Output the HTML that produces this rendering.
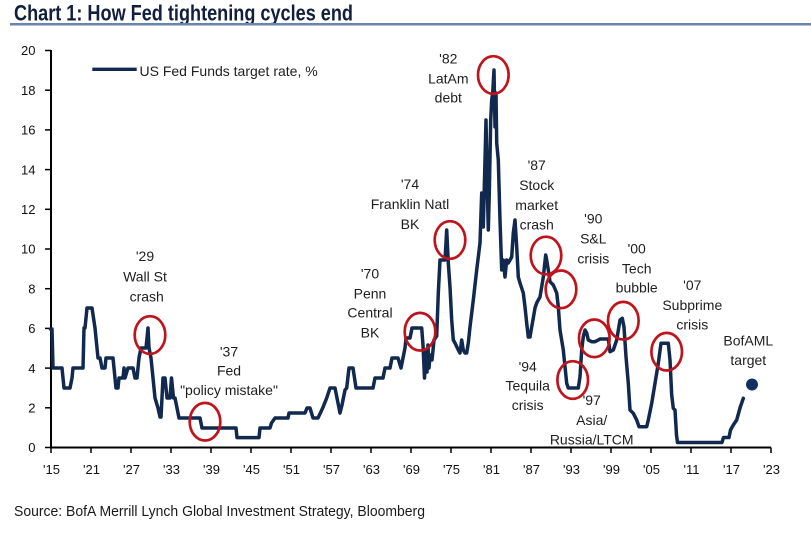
<!DOCTYPE html>
<html>
<head>
<meta charset="utf-8">
<style>
  html, body { margin: 0; padding: 0; background: #ffffff; }
  svg { display: block; }
  .ann { font-family: "Liberation Sans", Arial, sans-serif; font-size: 14px; fill: #1e1e1e; text-anchor: middle; }
  .tick { font-family: "Liberation Sans", Arial, sans-serif; font-size: 13px; fill: #111; }
</style>
</head>
<body>
<svg width="811" height="544" viewBox="0 0 811 544" xmlns="http://www.w3.org/2000/svg">
  <rect x="0" y="0" width="811" height="544" fill="#ffffff"/>

  <!-- Title -->
  <text x="14" y="20.7" font-family="'Liberation Sans Narrow','Liberation Sans',Arial,sans-serif" font-weight="bold" font-size="22" fill="#111e3c" textLength="339" lengthAdjust="spacingAndGlyphs">Chart 1: How Fed tightening cycles end</text>
  <rect x="10" y="23" width="801" height="2.5" fill="#6a83ad"/>

  <!-- Axes -->
  <line x1="51" y1="50" x2="51" y2="448.5" stroke="#000" stroke-width="2"/>
  <line x1="50" y1="447.5" x2="771" y2="447.5" stroke="#000" stroke-width="2"/>

  <!-- Y ticks -->
  <g stroke="#000" stroke-width="1.5">
    <line x1="45" y1="447.5" x2="51" y2="447.5"/>
    <line x1="45" y1="407.8" x2="51" y2="407.8"/>
    <line x1="45" y1="368.1" x2="51" y2="368.1"/>
    <line x1="45" y1="328.4" x2="51" y2="328.4"/>
    <line x1="45" y1="288.7" x2="51" y2="288.7"/>
    <line x1="45" y1="249.0" x2="51" y2="249.0"/>
    <line x1="45" y1="209.3" x2="51" y2="209.3"/>
    <line x1="45" y1="169.6" x2="51" y2="169.6"/>
    <line x1="45" y1="129.9" x2="51" y2="129.9"/>
    <line x1="45" y1="90.2" x2="51" y2="90.2"/>
    <line x1="45" y1="50.5" x2="51" y2="50.5"/>
  </g>
  <g class="tick" text-anchor="end">
    <text x="35.5" y="452.2">0</text>
    <text x="35.5" y="412.5">2</text>
    <text x="35.5" y="372.8">4</text>
    <text x="35.5" y="333.1">6</text>
    <text x="35.5" y="293.4">8</text>
    <text x="35.5" y="253.7">10</text>
    <text x="35.5" y="214.0">12</text>
    <text x="35.5" y="174.3">14</text>
    <text x="35.5" y="134.6">16</text>
    <text x="35.5" y="94.9">18</text>
    <text x="35.5" y="55.2">20</text>
  </g>

  <!-- X ticks -->
  <g stroke="#000" stroke-width="1.5">
    <line x1="51" y1="447.5" x2="51" y2="453"/>
    <line x1="91" y1="447.5" x2="91" y2="453"/>
    <line x1="131" y1="447.5" x2="131" y2="453"/>
    <line x1="171" y1="447.5" x2="171" y2="453"/>
    <line x1="211" y1="447.5" x2="211" y2="453"/>
    <line x1="251" y1="447.5" x2="251" y2="453"/>
    <line x1="291" y1="447.5" x2="291" y2="453"/>
    <line x1="331" y1="447.5" x2="331" y2="453"/>
    <line x1="371" y1="447.5" x2="371" y2="453"/>
    <line x1="411" y1="447.5" x2="411" y2="453"/>
    <line x1="451" y1="447.5" x2="451" y2="453"/>
    <line x1="491" y1="447.5" x2="491" y2="453"/>
    <line x1="531" y1="447.5" x2="531" y2="453"/>
    <line x1="571" y1="447.5" x2="571" y2="453"/>
    <line x1="611" y1="447.5" x2="611" y2="453"/>
    <line x1="651" y1="447.5" x2="651" y2="453"/>
    <line x1="691" y1="447.5" x2="691" y2="453"/>
    <line x1="731" y1="447.5" x2="731" y2="453"/>
    <line x1="771" y1="447.5" x2="771" y2="453"/>
  </g>
  <g class="tick" text-anchor="middle">
    <text x="51.5" y="474">'15</text>
    <text x="91.5" y="474">'21</text>
    <text x="131.5" y="474">'27</text>
    <text x="171.5" y="474">'33</text>
    <text x="211.5" y="474">'39</text>
    <text x="251.5" y="474">'45</text>
    <text x="291.5" y="474">'51</text>
    <text x="331.5" y="474">'57</text>
    <text x="371.5" y="474">'63</text>
    <text x="411.5" y="474">'69</text>
    <text x="451.5" y="474">'75</text>
    <text x="491.5" y="474">'81</text>
    <text x="531.5" y="474">'87</text>
    <text x="571.5" y="474">'93</text>
    <text x="611.5" y="474">'99</text>
    <text x="651.5" y="474">'05</text>
    <text x="691.5" y="474">'11</text>
    <text x="731.5" y="474">'17</text>
    <text x="771.5" y="474">'23</text>
  </g>

  <!-- Legend -->
  <line x1="92.3" y1="69.3" x2="136.7" y2="69.3" stroke="#12294f" stroke-width="3.4"/>
  <text x="139.5" y="76" font-family="'Liberation Sans',Arial,sans-serif" font-size="14" fill="#1e1e1e">US Fed Funds target rate, %</text>

  <!-- Series -->
  <polyline fill="none" stroke="#12294f" stroke-width="3.5" stroke-linejoin="round" stroke-linecap="round"
    points="50.5,329 52,329 53,368 62,368 64,388 70,388 72,378 73,368 83,368 84,328 85,328 87,308 92,308 95,328 97,348 98,358 100,358 102,368 105,368 106,358 113,358 115,378 116,388 118,388 119,378 123,378 124,368 125,378 128,368 133,368 135,378 137,378 139,358 141,348 146,348 148,328 149,348 151,358 152,368 154,388 155,398 158,408 160,417 161,417 163,378 165,378 166,388 167,398 170,398 171.5,378 172.5,388 173.5,398 175,398 177,408 179,418 200,418 202,428 236,428 237,437.6 259,437.6 260,428 270,428 271.5,423 275,418 288,418 289,413 305,413 307,408 310,408 313,418 318,418 322.7,408 326.7,398 330,388 335,388 337,398 340,413 342,405 345,390 346.7,388 349,368 353,368 356,388 373,388 375,378 383,378 385,368 390,368 392,358 398,358 401,368 403,358 405,348 406,338 410,338 412,328 421.7,328 423,345 424.5,378 426,350 427,372 428,345 429,368 430,355 432,360 434,340 436.7,336 438.3,293 440,260 445,260 446.7,230 448.3,263 450,287 451.7,320 453.3,340 455,343 458.3,350 460,353 461.7,340 463.3,350 465,353 466.7,353 468.3,343 470,327 473.3,300 476.7,270 480,243 481.7,193 483.3,227 485,160 486,120 487.3,187 488.3,230 489.3,193 490.7,120 491.7,100 492.7,93 494,70 495,127 496,93 496.7,143 498.3,160 500,220 501.7,270 503.3,260 505,277 506.7,260 508.3,263 511.7,257 513.3,233 515,220 516.7,247 518.3,277 520,283 523.3,293 525,307 526.7,323 528.3,337 530,337 531.7,327 533.3,318 535,308 536.7,303 538.3,300 540,297 543.3,277 545.7,255 546.7,260 548.3,270 550,281.7 553.3,285 556.7,293 558.3,306.7 560,330 563.3,350 565,366.7 566.7,383.3 568.3,388 578.3,388 580,376.7 581.7,350 583.3,336.7 585,330 586.7,333 588.3,340 591.7,341.7 595,341.7 598.3,340 600,339 608.3,339 610,351.7 613.3,350 616.7,340 620,320 622.3,318.3 624,327 626,356.7 628.3,383.3 630,410 633.3,413.3 636.7,420 639,426.7 646.7,426.7 648.3,420 651.7,403.3 655,383.3 658.3,363.3 661,343.3 668.3,343.3 670,360 671.7,395 673.3,408.3 675,410 676.5,435 677.5,442.5 722,442.5 723.5,437.5 729,437.5 730.5,430 733.3,425 736.7,420 740,408 743.3,398.3"/>

  <!-- Target dot -->
  <circle cx="752" cy="384.5" r="6" fill="#123163"/>

  <!-- Red circles -->
  <g fill="none" stroke="#c0141c" stroke-width="2.7">
    <ellipse cx="150" cy="335" rx="15.3" ry="18.8"/>
    <ellipse cx="205" cy="421.7" rx="15.3" ry="18.8"/>
    <ellipse cx="420" cy="331.7" rx="15.3" ry="18.8"/>
    <ellipse cx="450" cy="240" rx="15.3" ry="18.8"/>
    <ellipse cx="493.3" cy="75" rx="15.3" ry="18.8"/>
    <ellipse cx="546" cy="255.5" rx="15.3" ry="18.8"/>
    <ellipse cx="561" cy="289.3" rx="15.3" ry="18.8"/>
    <ellipse cx="572.7" cy="380" rx="15.3" ry="18.8"/>
    <ellipse cx="594.3" cy="338.3" rx="15.3" ry="18.8"/>
    <ellipse cx="623.3" cy="320.7" rx="15.3" ry="18.8"/>
    <ellipse cx="666.7" cy="351.7" rx="15.3" ry="18.8"/>
  </g>

  <!-- Annotations -->
  <g class="ann">
    <text x="145" y="261">'29</text>
    <text x="145" y="281.5">Wall St</text>
    <text x="146.7" y="301.7">crash</text>

    <text x="229" y="356.7">'37</text>
    <text x="229" y="375.7">Fed</text>
    <text x="229" y="395">"policy mistake"</text>

    <text x="370" y="278.3">'70</text>
    <text x="370" y="298.3">Penn</text>
    <text x="370" y="317.7">Central</text>
    <text x="370" y="337.3">BK</text>

    <text x="410" y="189">'74</text>
    <text x="410" y="209">Franklin Natl</text>
    <text x="410" y="229">BK</text>

    <text x="448.3" y="63.3">'82</text>
    <text x="448.3" y="83.3">LatAm</text>
    <text x="448.3" y="102.7">debt</text>

    <text x="536.7" y="170">'87</text>
    <text x="536.7" y="190">Stock</text>
    <text x="536.7" y="210">market</text>
    <text x="536.7" y="229.3">crash</text>

    <text x="593.3" y="223.3">'90</text>
    <text x="593.3" y="243.3">S&amp;L</text>
    <text x="593.3" y="263.3">crisis</text>

    <text x="636.7" y="253.3">'00</text>
    <text x="636.7" y="273.3">Tech</text>
    <text x="636.7" y="292.7">bubble</text>

    <text x="692.3" y="290">'07</text>
    <text x="692.3" y="310">Subprime</text>
    <text x="692.3" y="329.3">crisis</text>

    <text x="748.3" y="345.7">BofAML</text>
    <text x="748.3" y="365">target</text>

    <text x="527.7" y="371.7">'94</text>
    <text x="527.7" y="390.7">Tequila</text>
    <text x="527.7" y="410">crisis</text>

    <text x="591.7" y="405">'97</text>
    <text x="591.7" y="425">Asia/</text>
    <text x="591.7" y="444.3">Russia/LTCM</text>
  </g>

  <!-- Source -->
  <text x="14" y="516" font-family="'Liberation Sans Narrow','Liberation Sans',Arial,sans-serif" font-size="15" fill="#1a1a1a" textLength="411" lengthAdjust="spacingAndGlyphs">Source:  BofA Merrill Lynch Global Investment Strategy, Bloomberg</text>
</svg>
</body>
</html>
